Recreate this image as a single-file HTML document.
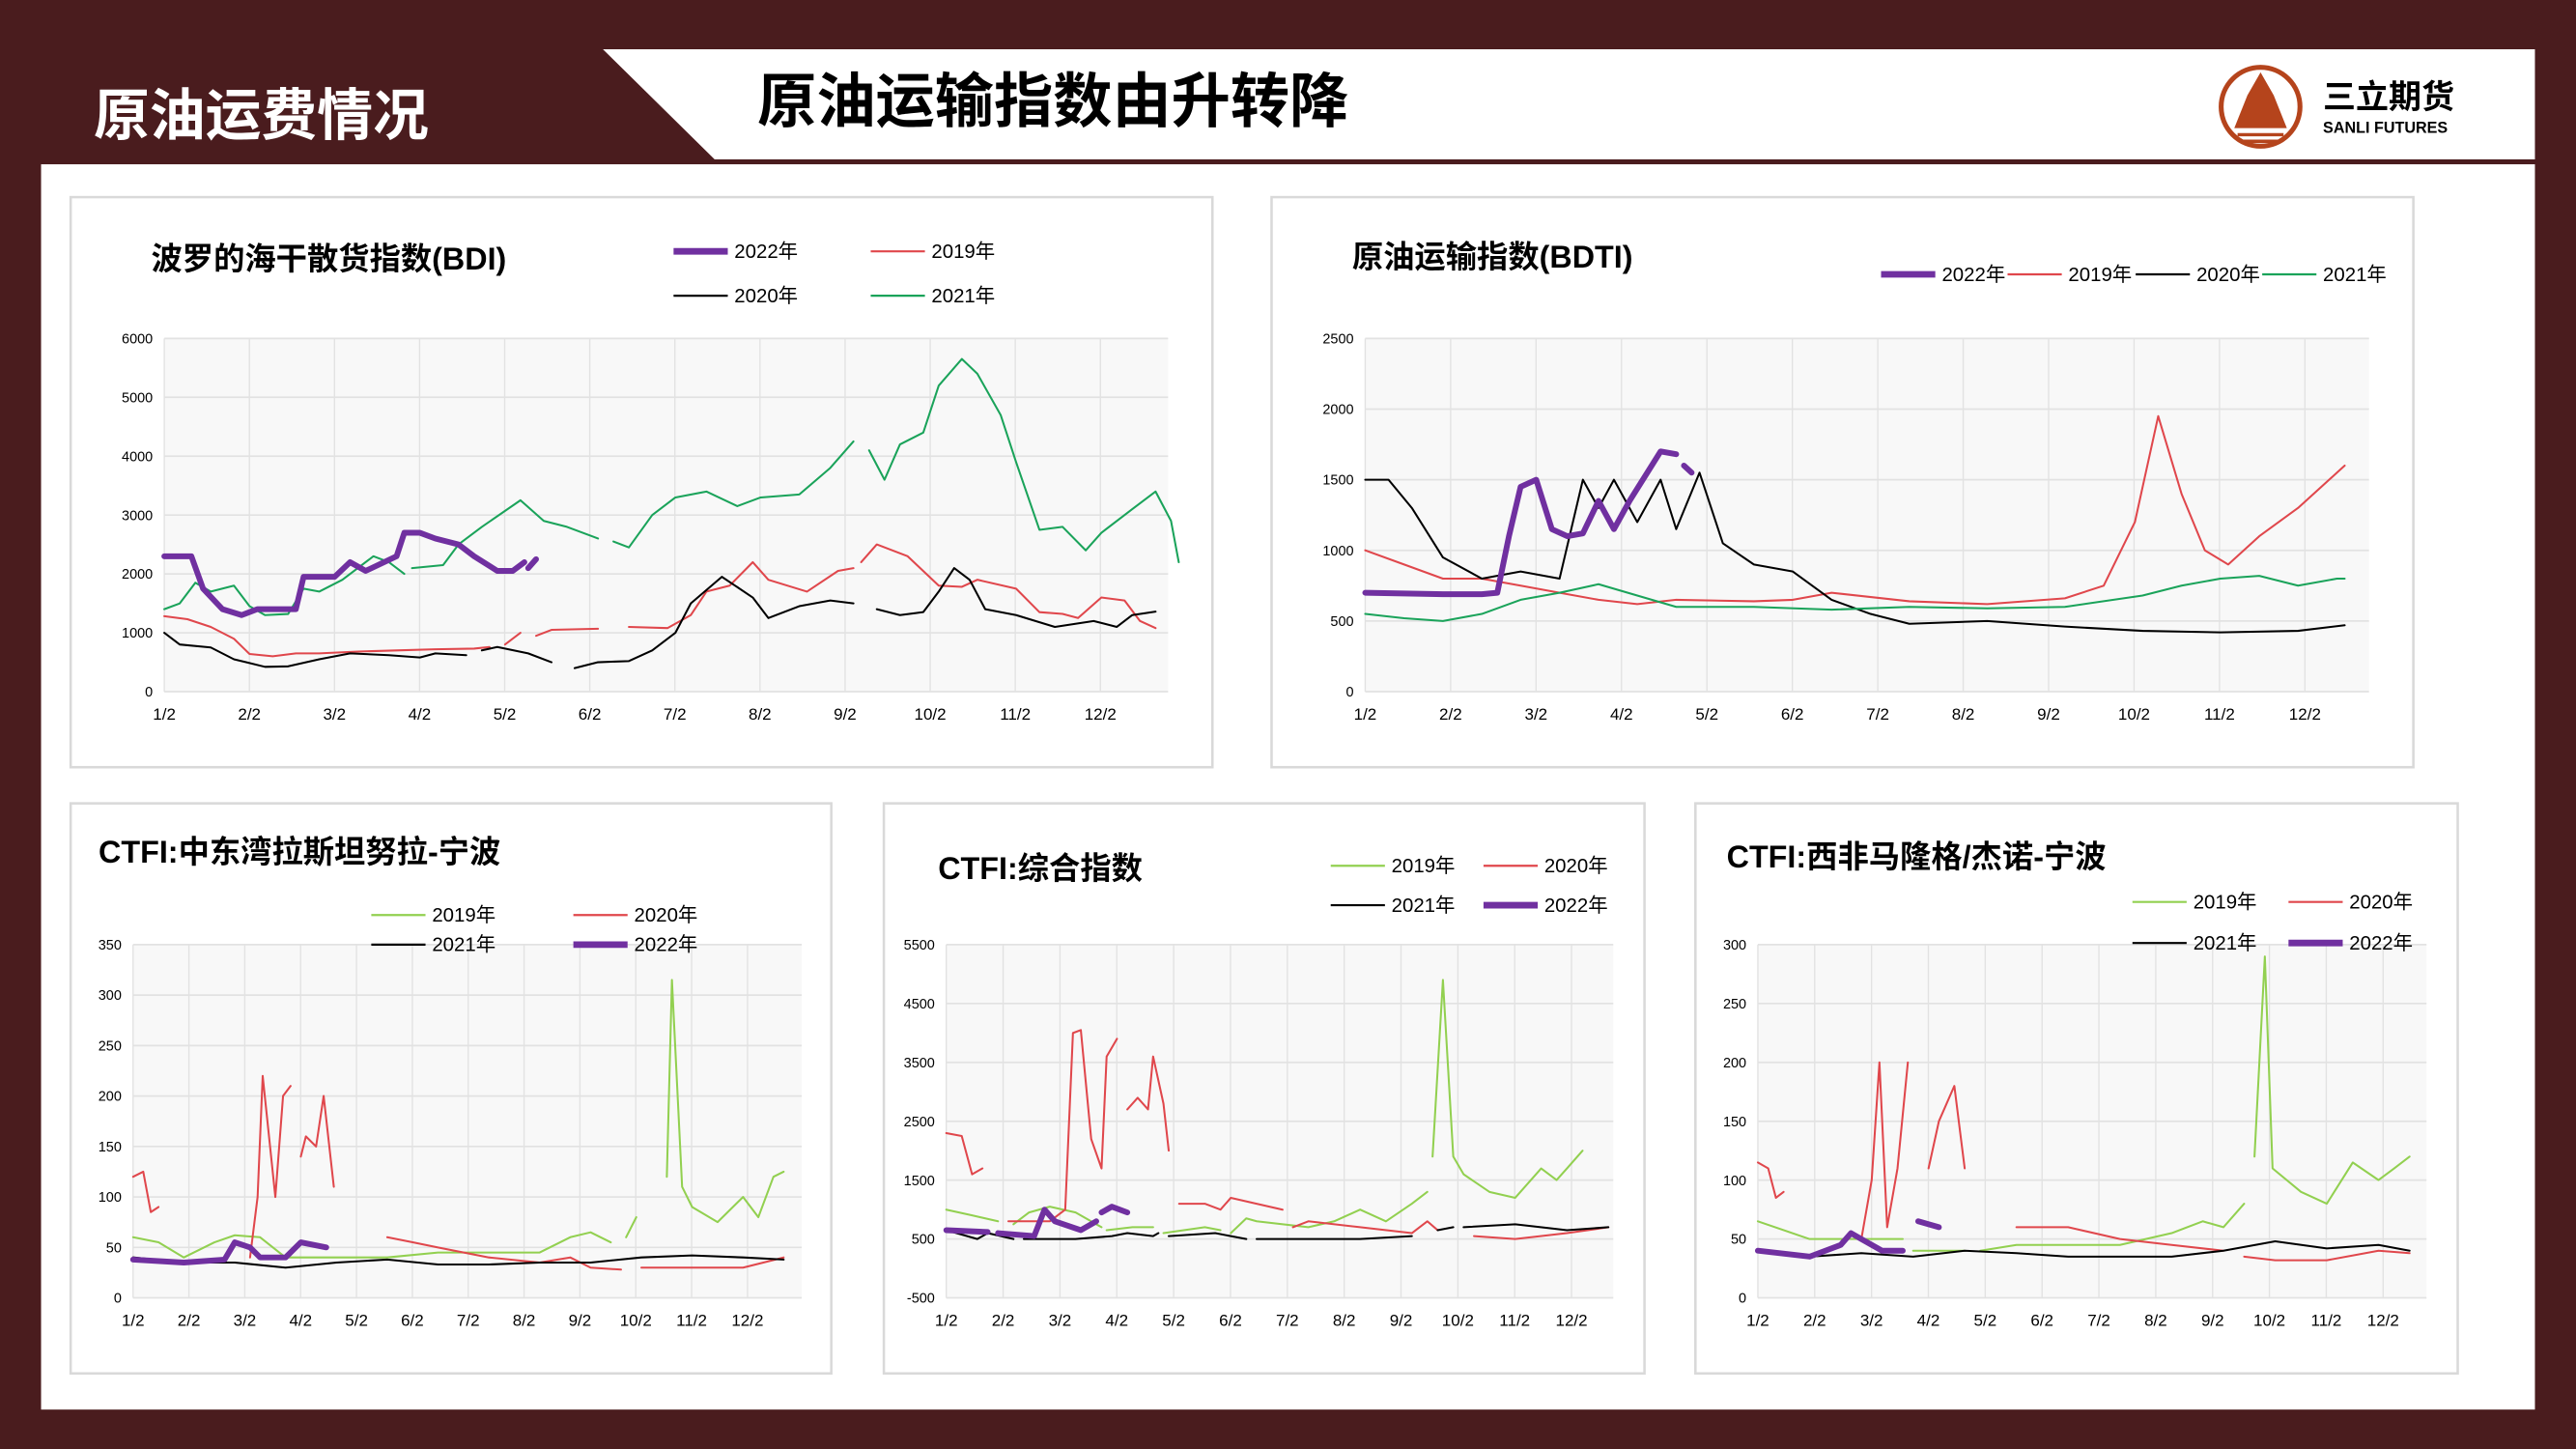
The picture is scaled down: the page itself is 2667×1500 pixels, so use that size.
<!DOCTYPE html>
<html><head><meta charset="utf-8">
<style>
html,body{margin:0;padding:0;background:#4a1c1e;}
svg{display:block;}
text{font-family:"Liberation Sans","Noto Sans CJK SC",sans-serif;}
</style></head>
<body>
<svg id="s" xmlns="http://www.w3.org/2000/svg" width="2667" height="1500" viewBox="0 0 1568 882" preserveAspectRatio="none">
<rect x="0" y="0" width="1568" height="882" fill="#4a1c1e"/>
<rect x="25" y="100" width="1518" height="758" fill="#ffffff"/>
<polygon points="367,30 1543,30 1543,97 435,97" fill="#ffffff"/>
<text x="57" y="82" font-size="34" font-weight="bold" fill="#ffffff" font-family="Noto Serif CJK SC, serif">原油运费情况</text>
<text x="461" y="74" font-size="36" font-weight="bold" fill="#000" font-family="Noto Serif CJK SC, serif">原油运输指数由升转降</text>
<circle cx="1376" cy="65" r="24" fill="none" stroke="#b5441c" stroke-width="3"/>
<polygon points="1360,78 1368,58 1376,44 1384,58 1392,78" fill="#b5441c"/>
<line x1="1362" y1="82" x2="1390" y2="82" stroke="#b5441c" stroke-width="2"/>
<line x1="1364" y1="86" x2="1388" y2="86" stroke="#b5441c" stroke-width="2"/>
<text x="1414" y="66" font-size="20" font-weight="bold" fill="#000">三立期货</text>
<text x="1414" y="81" font-size="9.5" font-weight="bold" fill="#000">SANLI FUTURES</text>
<g id="charts"></g>
</svg>
<script>
var NS="http://www.w3.org/2000/svg",G=document.getElementById("charts");
function el(t,a,txt){var e=document.createElementNS(NS,t);for(var k in a)e.setAttribute(k,a[k]);if(txt!==undefined)e.textContent=txt;G.appendChild(e);return e;}
var C={p:"#7030a0",r:"#e0474c",k:"#000",g:"#1aa35a",l:"#92d050"};
function chart(c){
 el("rect",{x:c.bx,y:c.by,width:c.bw,height:c.bh,fill:"#fff",stroke:"#d9d9d9","stroke-width":1.5});
 el("rect",{x:c.x0,y:c.y0,width:c.x1-c.x0,height:c.y1-c.y0,fill:"#f8f8f8"});
 var sx=function(m){return c.x0+m*c.ms;},sy=function(v){return c.y1-(v-c.vmin)/(c.vmax-c.vmin)*(c.y1-c.y0);};
 for(var m=0;m<12;m++){el("line",{x1:sx(m),y1:c.y0,x2:sx(m),y2:c.y1,stroke:"#e2e2e2","stroke-width":0.8});
  el("text",{x:sx(m),y:c.y1+17,"font-size":10,"text-anchor":"middle",fill:"#000"},(m+1)+"/2");}
 for(var v=c.vmin;v<=c.vmax+1e-6;v+=c.step){el("line",{x1:c.x0,y1:sy(v),x2:c.x1,y2:sy(v),stroke:"#e2e2e2","stroke-width":1});
  el("text",{x:c.x0-7,y:sy(v)+3,"font-size":8.5,"text-anchor":"end",fill:"#000"},v);}
 c.series.forEach(function(s){s.d.forEach(function(seg){
  var pts=[];for(var i=0;i<seg.length;i+=2)pts.push(sx(seg[i]*0.91).toFixed(1)+","+sy(seg[i+1]).toFixed(1));
  el("polyline",{points:pts.join(" "),fill:"none",stroke:C[s.c],"stroke-width":s.c=="p"?3.5:1.2,"stroke-linejoin":"round","stroke-linecap":"round"});});});
 el("text",{x:c.tx,y:c.ty,"font-size":c.tf||19,"font-weight":"bold",fill:"#000"},c.title);
 c.leg.forEach(function(l){el("line",{x1:l[0],y1:l[1],x2:l[0]+33,y2:l[1],stroke:C[l[2]],"stroke-width":l[2]=="p"?4:1.3});
  el("text",{x:l[0]+37,y:l[1]+4,"font-size":12,fill:"#000"},l[3]);});
}
chart({bx:43,by:120,bw:695,bh:347,x0:100,x1:711,y0:206,y1:421,ms:51.8,vmin:0,vmax:6000,step:1000,
 title:"波罗的海干散货指数(BDI)",tx:92,ty:164,
 leg:[[410,153,"p","2022年"],[530,153,"r","2019年"],[410,180,"k","2020年"],[530,180,"g","2021年"]],
 series:[
 {c:"r",d:[[0,1280,0.3,1230,0.6,1100,0.9,900,1.1,640,1.4,600,1.7,650,2,650,2.5,680,3,700,3.5,720,4,730,4.2,760],[4.4,800,4.6,1000],[4.8,950,5,1050,5.6,1070],[6,1100,6.5,1080,6.8,1300,7,1700,7.3,1800,7.6,2200,7.8,1900,8.3,1700,8.7,2050,8.9,2100],[9,2200,9.2,2500,9.6,2300,10,1800,10.3,1780,10.5,1900,11,1750,11.3,1350,11.6,1320,11.8,1250,12.1,1600,12.4,1550,12.6,1200,12.8,1080]]},
 {c:"k",d:[[0,1000,0.2,800,0.6,750,0.9,550,1.3,420,1.6,430,2,550,2.4,650,2.9,620,3.3,580,3.5,650,3.9,620],[4.1,700,4.3,760,4.7,650,5,500],[5.3,400,5.6,500,6,520,6.3,700,6.6,1000,6.8,1500,7.2,1950,7.6,1600,7.8,1250,8.2,1450,8.6,1550,8.9,1500],[9.2,1400,9.5,1300,9.8,1350,10,1700,10.2,2100,10.4,1900,10.6,1400,11,1300,11.5,1100,12,1200,12.3,1100,12.5,1300,12.8,1360]]},
 {c:"g",d:[[0,1400,0.2,1500,0.4,1850,0.6,1700,0.9,1800,1.1,1450,1.3,1300,1.6,1320,1.8,1750,2,1700,2.3,1900,2.7,2300,2.9,2200,3.1,2000],[3.2,2100,3.6,2150,3.8,2500,4.1,2800,4.6,3250,4.9,2900,5.2,2800,5.5,2650,5.6,2600],[5.8,2550,6,2450,6.3,3000,6.6,3300,7,3400,7.4,3150,7.7,3300,8.2,3350,8.6,3800,8.9,4250],[9.1,4100,9.3,3600,9.5,4200,9.8,4400,10,5200,10.3,5650,10.5,5400,10.8,4700,11,3900,11.3,2750,11.6,2800,11.9,2400,12.1,2700,12.5,3100,12.8,3400,13,2900,13.1,2200]]},
 {c:"p",d:[[0,2300,0.35,2300,0.5,1750,0.75,1400,1,1300,1.2,1400,1.7,1400,1.8,1950,2.2,1950,2.4,2200,2.6,2050,3,2300,3.1,2700,3.3,2700,3.5,2600,3.8,2500,4,2300,4.3,2050,4.5,2050,4.65,2200],[4.7,2100,4.8,2250]]}
 ]});
chart({bx:774,by:120,bw:695,bh:347,x0:831,x1:1442,y0:206,y1:421,ms:52,vmin:0,vmax:2500,step:500,
 title:"原油运输指数(BDTI)",tx:823,ty:163,
 leg:[[1145,167,"p","2022年"],[1222,167,"r","2019年"],[1300,167,"k","2020年"],[1377,167,"g","2021年"]],
 series:[
 {c:"r",d:[[0,1000,0.5,900,1,800,1.5,800,2,750,2.5,700,3,650,3.5,620,4,650,5,640,5.5,650,6,700,7,640,8,620,9,660,9.5,750,9.9,1200,10.2,1950,10.5,1400,10.8,1000,11.1,900,11.5,1100,12,1300,12.5,1550,12.6,1600]]},
 {c:"k",d:[[0,1500,0.3,1500,0.6,1300,1,950,1.5,800,2,850,2.5,800,2.8,1500,3,1300,3.2,1500,3.5,1200,3.8,1500,4,1150,4.3,1550,4.6,1050,5,900,5.5,850,6,650,6.5,550,7,480,8,500,9,460,10,430,11,420,12,430,12.6,470]]},
 {c:"g",d:[[0,550,0.5,520,1,500,1.5,550,2,650,2.5,700,3,760,3.5,680,4,600,5,600,6,580,7,600,8,590,9,600,10,680,10.5,750,11,800,11.5,820,12,750,12.5,800,12.6,800]]},
 {c:"p",d:[[0,700,1,690,1.5,690,1.7,700,1.85,1100,2,1450,2.2,1500,2.4,1150,2.6,1100,2.8,1120,3,1350,3.2,1150,3.4,1350,3.8,1700,4,1680],[4.1,1600,4.2,1550]]}
 ]});
chart({bx:43,by:489,bw:463,bh:347,x0:81,x1:488,y0:575,y1:790,ms:34,vmin:0,vmax:350,step:50,
 title:"CTFI:中东湾拉斯坦努拉-宁波",tx:60,ty:525,
 leg:[[226,557,"l","2019年"],[349,557,"r","2020年"],[226,575,"k","2021年"],[349,575,"p","2022年"]],
 series:[
 {c:"l",d:[[0,60,0.5,55,1,40,1.6,55,2,62,2.5,60,3,40,4,40,5,40,6,45,7,45,8,45,8.6,60,9,65,9.4,55],[9.7,60,9.9,80],[10.5,120,10.6,315,10.8,110,11,90,11.5,75,12,100,12.3,80,12.6,120,12.8,125]]},
 {c:"r",d:[[0,120,0.2,125,0.35,85,0.5,90],[2.3,40,2.45,100,2.55,220,2.8,100,2.95,200,3.1,210],[3.3,140,3.4,160,3.6,150,3.75,200,3.95,110],[5,60,5.5,55,6,50,7,40,8,35,8.6,40,9,30,9.6,28],[10,30,11,30,12,30,12.8,40]]},
 {c:"k",d:[[0,40,1,35,2,35,3,30,4,35,5,38,6,33,7,33,8,35,9,35,10,40,11,42,12,40,12.8,38]]},
 {c:"p",d:[[0,38,1,35,1.8,38,2,55,2.3,50,2.5,40,3,40,3.3,55,3.8,50]]}
 ]});
chart({bx:538,by:489,bw:463,bh:347,x0:576,x1:982,y0:575,y1:790,ms:34.6,vmin:-500,vmax:5500,step:1000,
 title:"CTFI:综合指数",tx:571,ty:535,
 leg:[[810,527,"l","2019年"],[903,527,"r","2020年"],[810,551,"k","2021年"],[903,551,"p","2022年"]],
 series:[
 {c:"l",d:[[0,1000,0.5,900,1,800],[1.3,750,1.6,950,2,1050,2.5,950,3,700],[3.1,650,3.6,700,4,700],[4.2,600,5,700,5.3,650],[5.5,600,5.8,850,6,800,7,700,7.5,800,8,1000,8.5,800,9,1100,9.3,1300],[9.4,1900,9.6,4900,9.8,1900,10,1600,10.5,1300,11,1200,11.5,1700,11.8,1500,12,1700,12.3,2000]]},
 {c:"r",d:[[0,2300,0.3,2250,0.5,1600,0.7,1700],[1.2,800,2,800,2.3,1000,2.45,4000,2.6,4050,2.8,2200,3,1700,3.1,3600,3.3,3900],[3.5,2700,3.7,2900,3.9,2700,4,3600,4.2,2800,4.3,2000],[4.5,1100,5,1100,5.3,1000,5.5,1200,6,1100,6.5,1000],[6.7,700,7,800,8,700,9,600,9.3,800,9.5,650],[10.2,550,11,500,12,600,12.8,700]]},
 {c:"k",d:[[0,650,0.6,500,0.8,600,1.3,500],[1.5,500,2.5,500,3.2,550,3.5,600,4,550,4.1,600],[4.3,550,5.2,600,5.8,500],[6,500,8,500,9,550],[9.5,650,9.8,700],[10,700,11,750,12,650,12.8,700]]},
 {c:"p",d:[[0,650,0.8,620],[1,600,1.7,550,1.9,1000,2.1,800,2.6,650,2.9,800],[3,950,3.2,1050,3.5,950]]}
 ]});
chart({bx:1032,by:489,bw:464,bh:347,x0:1070,x1:1477,y0:575,y1:790,ms:34.6,vmin:0,vmax:300,step:50,
 title:"CTFI:西非马隆格/杰诺-宁波",tx:1051,ty:528,
 leg:[[1298,549,"l","2019年"],[1393,549,"r","2020年"],[1298,574,"k","2021年"],[1393,574,"p","2022年"]],
 series:[
 {c:"l",d:[[0,65,1,50,2,50,2.8,50],[3,40,4,40],[4.3,40,5,45,6,45,7,45,8,55,8.6,65,9,60,9.4,80],[9.6,120,9.8,290,9.95,110,10.5,90,11,80,11.5,115,12,100,12.3,110,12.6,120]]},
 {c:"r",d:[[0,115,0.2,110,0.35,85,0.5,90],[2,50,2.2,100,2.35,200,2.5,60,2.7,110,2.9,200],[3.3,110,3.5,150,3.8,180,4,110],[5,60,6,60,7,50,8,45,9,40],[9.4,35,10,32,11,32,12,40,12.6,38]]},
 {c:"k",d:[[0,40,1,35,2,38,3,35,4,40,5,38,6,35,7,35,8,35,9,40,10,48,11,42,12,45,12.6,40]]},
 {c:"p",d:[[0,40,1,35,1.6,45,1.8,55,2,50,2.4,40,2.8,40],[3.1,65,3.5,60]]}
 ]});
</script>
</body></html>
